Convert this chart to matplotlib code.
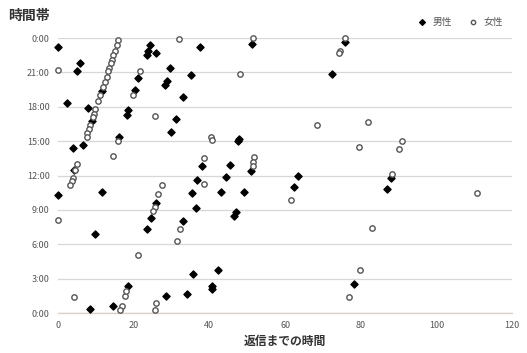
import matplotlib
matplotlib.use("Agg")
import matplotlib.pyplot as plt

plt.rcParams['font.family'] = ['Noto Sans CJK JP', 'DejaVu Sans']

# 男性 (male): reply time (x) vs hour of day (y)
male_x = [0.0, 5.8, 4.9, 2.3, 8.0, 8.9, 11.5, 6.7, 4.0, 4.3, 16.2,
          21.2, 20.4, 18.6, 18.2, 24.3, 23.8, 23.4, 25.9, 28.7, 28.3,
          29.6, 35.1, 33.1, 31.2, 29.9, 37.5, 51.2, 47.7, 47.5, 38.0,
          45.5, 51.0, 44.3, 36.7, 75.7, 72.4, 63.5, 62.4, 87.9, 86.8,
          78.2, 0.1, 11.5, 9.8, 25.9, 24.5, 23.4, 8.5, 14.6, 18.6,
          28.6, 35.5, 43.1, 49.2, 36.5, 47.0, 46.6, 33.1, 42.2, 35.8,
          40.6, 40.6, 34.0]
male_y = [23.2, 21.8, 21.1, 18.3, 17.9, 16.8, 19.4, 14.7, 14.4, 12.5, 15.4,
          20.5, 19.5, 17.7, 17.3, 23.4, 22.9, 22.5, 22.7, 20.3, 19.9,
          21.4, 20.8, 18.9, 16.9, 15.8, 23.2, 23.5, 15.2, 15.0, 12.8,
          12.9, 12.4, 11.9, 11.6, 23.7, 20.9, 12.0, 11.0, 11.8, 10.8,
          2.5, 10.3, 10.6, 6.9, 9.6, 8.3, 7.3, 0.4, 0.6, 2.4,
          1.5, 10.5, 10.6, 10.6, 9.2, 8.8, 8.5, 8.0, 3.8, 3.4,
          2.4, 2.1, 1.7]

# 女性 (female)
female_x = [0.0, 15.9, 15.5, 15.1, 14.6, 14.2, 13.9, 13.6, 13.3, 12.9,
            12.4, 12.0, 11.1, 10.7, 9.8, 9.6, 9.2, 8.5, 8.2, 7.8, 7.6,
            4.9, 4.5, 4.0, 3.6, 3.2, 15.9, 14.6, 21.7, 19.9, 25.6,
            32.0, 51.4, 48.1, 40.4, 40.7, 38.6, 51.9, 51.5, 51.4, 75.9,
            74.6, 74.3, 68.3, 81.8, 79.4, 90.8, 90.2, 61.5, 88.2, 82.9,
            79.7, 77.0, 110.7, 0.1, 27.4, 26.5, 25.6, 25.2, 21.2, 4.2,
            16.8, 16.4, 17.7, 18.0, 25.9, 25.6, 38.7, 32.3, 31.4]
female_y = [21.2, 23.8, 23.4, 22.9, 22.5, 22.1, 21.8, 21.4, 21.1, 20.6,
            20.2, 19.7, 19.0, 18.5, 17.8, 17.4, 17.1, 16.4, 16.1, 15.7, 15.4,
            13.0, 12.5, 11.8, 11.5, 11.2, 15.0, 13.7, 21.1, 19.0, 17.2,
            23.9, 24.0, 20.9, 15.4, 15.1, 13.5, 13.6, 13.2, 12.8, 24.0,
            22.9, 22.7, 16.4, 16.7, 14.5, 15.0, 14.3, 9.9, 12.1, 7.4,
            3.8, 1.4, 10.5, 8.1, 11.2, 10.4, 9.3, 8.9, 5.1, 1.4,
            0.6, 0.3, 1.5, 1.9, 0.85, 0.3, 11.3, 7.3, 6.3]

yticks = [0, 3, 6, 9, 12, 15, 18, 21, 24]
ytick_labels = ["0:00", "3:00", "6:00", "9:00", "12:00", "15:00", "18:00", "21:00", "0:00"]
xticks = [0, 20, 40, 60, 80, 100, 120]

fig = plt.figure(figsize=(5.27, 3.53), dpi=100)
ax = fig.add_axes([0.110, 0.113, 0.862, 0.779])

ax.scatter(male_x, male_y, marker='D', s=13, color='black', zorder=3,
           clip_on=False, label='男性')
ax.scatter(female_x, female_y, marker='o', s=15, facecolors='white',
           edgecolors='#555555', linewidths=1.0, zorder=4, clip_on=False,
           label='女性')

ax.set_xlim(0, 120)
ax.set_ylim(0, 24)
ax.set_yticks(yticks)
ax.set_yticklabels(ytick_labels)
ax.set_xticks(xticks)
ax.tick_params(axis='both', length=0, labelsize=6.5, colors='#555555', pad=6)
ax.grid(axis='y', color='#dcd6d2', linewidth=0.9)
ax.set_axisbelow(True)
for side in ['top', 'right', 'left']:
    ax.spines[side].set_visible(False)
ax.spines['bottom'].set_color('#d8cfc8')
ax.spines['bottom'].set_linewidth(0.9)

ax.set_xlabel('返信までの時間', fontsize=8.5, fontweight='bold', color='#333333',
              labelpad=3)
fig.text(0.015, 0.955, '時間帯', fontsize=10, fontweight='bold',
         color='#333333', va='center', ha='left')

ax.legend(loc='upper right', bbox_to_anchor=(1.0, 1.11), ncol=2, frameon=False,
          fontsize=7, handletextpad=0.1, columnspacing=1.2,
          labelcolor='#555555', markerscale=0.8)

fig.savefig('out.png', dpi=100, facecolor='white')
